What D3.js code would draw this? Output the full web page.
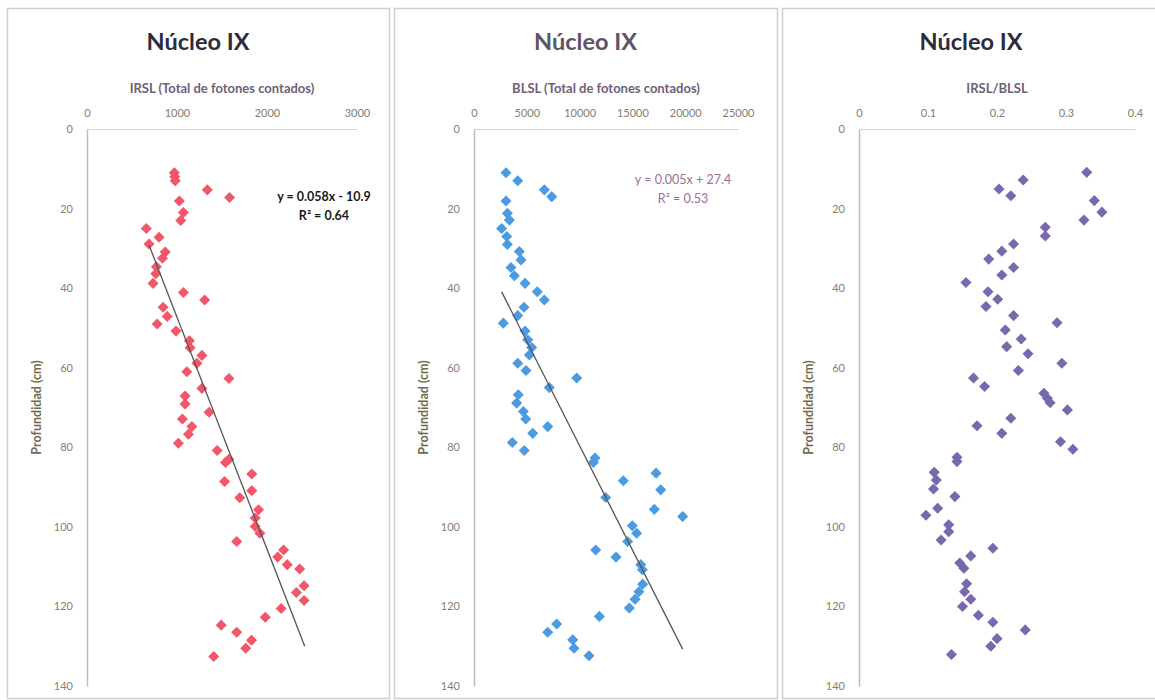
<!DOCTYPE html>
<html><head><meta charset="utf-8">
<script src="https://cdn.jsdelivr.net/npm/d3@7/dist/d3.min.js"></script>
<style>body{margin:0;background:#fff}svg{display:block}</style>
</head><body><svg id="c" width="1155" height="700"></svg>
<script>
const irslDepth = [11,12,13,15.3,17.2,18.1,21,23,25,27.2,28.9,30.9,32.5,34.6,36.4,38.8,41.1,43,44.8,47.1,49,50.8,53.2,55,56.9,58.9,61,62.7,65.2,67.1,69.1,71.2,72.9,74.8,76.7,79,80.8,83,83.8,86.7,88.6,90.9,92.7,95.7,97.8,99.9,101.6,103.7,105.8,107.6,109.5,110.6,114.8,116.5,118.5,120.5,122.7,124.7,126.5,128.5,130.5,132.6];
const irslValue = [970,975,980,1337,1584,1026,1071,1041,659,801,689,869,839,771,764,734,1071,1307,846,891,779,989,1138,1146,1277,1221,1109,1577,1277,1090,1090,1356,1060,1165,1127,1015,1446,1577,1539,1831,1528,1831,1697,1906,1869,1869,1921,1663,2184,2119,2225,2363,2412,2326,2412,2157,1981,1491,1663,1828,1764,1408];

const blslDepth = [11,13,15.3,17,18.1,21.2,22.9,25,27,29,30.8,32.9,34.8,36.9,38.8,40.9,43,44.8,46.9,48.8,50.8,53,54.9,56.8,58.9,60.7,62.6,65,66.8,68.9,71,72.9,74.8,76.5,78.8,80.8,82.7,83.8,86.5,88.4,90.7,92.6,95.6,97.4,99.7,101.6,103.7,105.8,107.6,109.5,110.8,114.4,116.3,118.2,120.4,122.5,124.4,126.5,128.4,130.5,132.4];
const blslValue = [3030,4140,6660,7360,3030,3160,3350,2620,3100,3160,4290,4450,3500,3820,4830,5990,6660,4735,4140,2775,4830,5085,5460,5240,4140,4925,9725,7130,4195,4040,4670,4900,6980,5560,3630,4760,11460,11300,17240,14140,17680,12470,17075,19760,14990,15400,14550,11520,13450,15790,15940,15970,15620,15250,14710,11870,7830,6980,9350,9470,10890];

const ratioDepth = [10.9,12.8,15.1,16.8,18,20.9,22.9,24.7,26.9,28.9,30.7,32.7,34.8,36.7,38.6,40.9,42.8,44.6,46.9,48.7,50.5,52.8,54.7,56.5,58.9,60.7,62.6,64.7,66.4,67.7,68.8,70.6,72.7,74.6,76.5,78.6,80.5,82.5,83.6,86.3,88.2,90.5,92.4,95.3,97.1,99.5,101.2,103.3,105.4,107.3,109.1,110.4,114.3,116.3,118.2,120,122.2,124,125.9,128.1,130,132.1];
const ratioValue = [0.330,0.238,0.203,0.220,0.341,0.352,0.326,0.270,0.270,0.224,0.207,0.188,0.224,0.207,0.155,0.187,0.201,0.184,0.224,0.287,0.212,0.235,0.214,0.245,0.294,0.231,0.166,0.182,0.268,0.273,0.277,0.302,0.220,0.171,0.207,0.292,0.310,0.142,0.142,0.109,0.112,0.108,0.139,0.114,0.097,0.130,0.130,0.119,0.194,0.162,0.146,0.152,0.156,0.153,0.162,0.150,0.173,0.194,0.241,0.200,0.191,0.134];

const depthTicks = [0,20,40,60,80,100,120,140];
const irslTicks = [0,1000,2000,3000];
const blslTicks = [0,5000,10000,15000,20000,25000];
const ratioTicks = [0,0.1,0.2,0.3,0.4];
const irslTrend = [0.0583,-11.0];
const blslTrend = [0.00524,27.2];
const irslTrendRange = [689,2419];
const titles = ["Núcleo IX","Núcleo IX","Núcleo IX"];
const xTitles = ["IRSL (Total de fotones contados)","BLSL (Total de fotones contados)","IRSL/BLSL"];
const yTitle = "Profundidad  (cm)";
const eqTexts = [["y = 0.058x - 10.9","R² = 0.64"],["y = 0.005x + 27.4","R² = 0.53"],null];

const svg = d3.select("#c");
const FONT = "Lato, 'Open Sans', sans-serif";

const panels = [
  {box:[7,8,389,698], plot:[87,129,357,686], dom:[0,3000], ticks:irslTicks, xs:irslValue, ys:irslDepth, color:"#f2566a", trend:irslTrend, trendRange:irslTrendRange, eq:eqTexts[0], eqPos:[324,201], eqColor:"#1a1a1a", titleColor:"#2c2c3c", fmt:d3.format("d")},
  {box:[394,8,777,698], plot:[474,129,738,686], dom:[0,25000], ticks:blslTicks, xs:blslValue, ys:blslDepth, color:"#4c9ae2", trend:blslTrend, trendRange:null, eq:eqTexts[1], eqPos:[683,184], eqColor:"#9b6f98", titleColor:"#5e5466", fmt:d3.format("d")},
  {box:[782,8,1160,698], plot:[859,129,1135,686], dom:[0,0.4], ticks:ratioTicks, xs:ratioValue, ys:ratioDepth, color:"#7a68ae", trend:null, eq:null, titleColor:"#2c2c3c", fmt:d=>d===0?"0":d3.format(".1f")(d)}
];

panels.forEach((p,i)=>{
  const g = svg.append("g");
  g.append("rect").attr("x",p.box[0]+0.5).attr("y",p.box[1]+0.5)
    .attr("width",p.box[2]-p.box[0]).attr("height",p.box[3]-p.box[1])
    .attr("fill","#fff").attr("stroke","#cfcfcf").attr("stroke-width",1.5);
  const cx = (p.box[0]+p.box[2])/2;
  g.append("text").attr("x",cx).attr("y",50).attr("text-anchor","middle")
    .attr("font-family",FONT).attr("font-weight","bold").attr("font-size",23.5)
    .attr("fill",p.titleColor).text(titles[i]);
  const x = d3.scaleLinear().domain(p.dom).range([p.plot[0],p.plot[2]]);
  const y = d3.scaleLinear().domain([0,140]).range([p.plot[1],p.plot[3]]);
  g.append("text").attr("x",(p.plot[0]+p.plot[2])/2).attr("y",93).attr("text-anchor","middle")
    .attr("font-family",FONT).attr("font-weight","bold").attr("font-size",13)
    .attr("fill","#6e5f78").text(xTitles[i]);
  const xa = g.append("g").attr("transform",`translate(0,${p.plot[1]})`)
    .call(d3.axisTop(x).tickValues(p.ticks).tickFormat(p.fmt).tickSize(0).tickPadding(12));
  xa.select(".domain").attr("stroke","#d4d4d4").attr("stroke-width",1.2);
  xa.selectAll("text").attr("font-family",FONT).attr("font-size",11).attr("fill","#7d8070");
  const ya = g.append("g").attr("transform",`translate(${p.plot[0]},0)`)
    .call(d3.axisLeft(y).tickValues(depthTicks).tickSize(0).tickPadding(14));
  ya.select(".domain").attr("stroke","#bdbdbd").attr("stroke-width",1.5);
  ya.selectAll("text").attr("font-family",FONT).attr("font-size",11).attr("fill","#85806f");
  g.append("text").attr("transform",`translate(${p.plot[0]-46},${(p.plot[1]+p.plot[3])/2}) rotate(-90)`)
    .attr("text-anchor","middle").attr("font-family",FONT).attr("font-weight","bold").attr("font-size",12.5)
    .attr("fill","#6f6a4a").text(yTitle);
  const pts = p.xs.map((v,k)=>[v,p.ys[k]]);
  g.selectAll("path.pt").data(pts).enter().append("path").attr("class","pt")
    .attr("d",d3.symbol().type(d3.symbolDiamond2).size(78))
    .attr("transform",d=>`translate(${x(d[0])},${y(d[1])})`)
    .attr("fill",p.color);
  if(p.trend){
    const ext = p.trendRange || d3.extent(p.xs);
    g.append("line").attr("x1",x(ext[0])).attr("y1",y(p.trend[0]*ext[0]+p.trend[1]))
      .attr("x2",x(ext[1])).attr("y2",y(p.trend[0]*ext[1]+p.trend[1]))
      .attr("stroke","#555555").attr("stroke-width",1.3);
  }
  if(p.eq){
    p.eq.forEach((t,k)=>g.append("text").attr("x",p.eqPos[0]).attr("y",p.eqPos[1]+k*19)
      .attr("text-anchor","middle").attr("font-family",FONT).attr("font-weight",i===0?"bold":"normal")
      .attr("font-size",12.5).attr("fill",p.eqColor).text(t));
  }
});
</script></body></html>
